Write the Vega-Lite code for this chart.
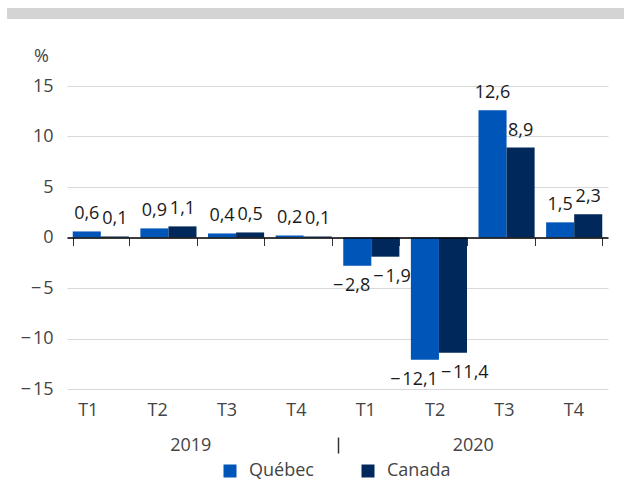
{
  "$schema": "https://vega.github.io/schema/vega-lite/v6.json",
  "background": "white",
  "padding": {"left": 7, "top": 8, "right": 0, "bottom": 8},
  "config": {
    "font": "Open Sans",
    "view": {"stroke": null},
    "locale": {"number": {"decimal": ",", "thousands": " ", "grouping": [3], "currency": ["", " $"], "minus": "−\u200a"}}
  },
  "width": 541,
  "height": 303,
  "data": {"values": [
    {"cat": "2019|T1", "year": "2019", "series": "Québec", "value": 0.6},
    {"cat": "2019|T1", "year": "2019", "series": "Canada", "value": 0.1},
    {"cat": "2019|T2", "year": "2019", "series": "Québec", "value": 0.9},
    {"cat": "2019|T2", "year": "2019", "series": "Canada", "value": 1.1},
    {"cat": "2019|T3", "year": "2019", "series": "Québec", "value": 0.4},
    {"cat": "2019|T3", "year": "2019", "series": "Canada", "value": 0.5},
    {"cat": "2019|T4", "year": "2019", "series": "Québec", "value": 0.2},
    {"cat": "2019|T4", "year": "2019", "series": "Canada", "value": 0.1},
    {"cat": "2020|T1", "year": "2020", "series": "Québec", "value": -2.8},
    {"cat": "2020|T1", "year": "2020", "series": "Canada", "value": -1.9},
    {"cat": "2020|T2", "year": "2020", "series": "Québec", "value": -12.1},
    {"cat": "2020|T2", "year": "2020", "series": "Canada", "value": -11.4},
    {"cat": "2020|T3", "year": "2020", "series": "Québec", "value": 12.6},
    {"cat": "2020|T3", "year": "2020", "series": "Canada", "value": 8.9},
    {"cat": "2020|T4", "year": "2020", "series": "Québec", "value": 1.5},
    {"cat": "2020|T4", "year": "2020", "series": "Canada", "value": 2.3}
  ]},
  "layer": [
    {
      "mark": {"type": "bar"},
      "encoding": {
        "x": {"field": "cat", "type": "nominal", "sort": null,
          "scale": {"domain": ["2019|T1","2019|T2","2019|T3","2019|T4","2020|T1","2020|T2","2020|T3","2020|T4"], "paddingInner": 0.17, "paddingOuter": 0.085},
          "axis": {"orient": "bottom", "offset": -151.5, "labels": false, "domain": true, "domainColor": "#000000", "domainWidth": 1.5, "ticks": true, "tickBand": "extent", "tickSize": 8, "tickColor": "#333333", "tickWidth": 1, "grid": false, "title": null, "zindex": 1}},
        "xOffset": {"field": "series", "type": "nominal", "scale": {"domain": ["Québec", "Canada"]}},
        "y": {"field": "value", "type": "quantitative",
          "scale": {"domain": [-15, 15], "nice": false},
          "axis": {"values": [-15, -10, -5, 0, 5, 10, 15], "format": "d", "grid": true, "gridColor": "#d9d9d9", "gridWidth": 1, "domain": false, "ticks": false, "labelPadding": 14, "labelFontSize": 18, "labelColor": "#444444", "title": "%", "titleAngle": 0, "titleX": -26, "titleY": -25, "titleAlign": "center", "titleBaseline": "alphabetic", "titleFontWeight": "normal", "titleFontSize": 18, "titleColor": "#444444", "titlePadding": 0, "minExtent": 60}},
        "color": {"field": "series", "type": "nominal",
          "scale": {"domain": ["Québec", "Canada"], "range": ["#0055b8", "#00285a"]},
          "legend": {"orient": "none", "legendX": 154, "legendY": 376, "direction": "horizontal", "title": null, "symbolType": "square", "symbolSize": 169, "symbolStrokeWidth": 0, "symbolOpacity": 1, "labelFontSize": 18, "labelColor": "#444444", "labelOffset": 10, "columnPadding": 45}}
      }
    },
    {
      "transform": [{"filter": "datum.value >= 0"}],
      "mark": {"type": "text", "baseline": "alphabetic", "dy": -12, "fontSize": 18, "color": "#1a1a1a"},
      "encoding": {
        "x": {"field": "cat", "type": "nominal", "sort": null,
          "scale": {"domain": ["2019|T1","2019|T2","2019|T3","2019|T4","2020|T1","2020|T2","2020|T3","2020|T4"], "paddingInner": 0.17, "paddingOuter": 0.085}, "axis": null},
        "xOffset": {"field": "series", "type": "nominal", "scale": {"domain": ["Québec", "Canada"]}},
        "y": {"field": "value", "type": "quantitative"},
        "text": {"field": "value", "type": "quantitative", "format": ".1f"}
      }
    },
    {
      "transform": [{"filter": "datum.value < 0 && datum.series === 'Québec'"}],
      "mark": {"type": "text", "baseline": "top", "align": "right", "dx": 13, "dy": 11, "fontSize": 18, "color": "#1a1a1a"},
      "encoding": {
        "x": {"field": "cat", "type": "nominal", "sort": null,
          "scale": {"domain": ["2019|T1","2019|T2","2019|T3","2019|T4","2020|T1","2020|T2","2020|T3","2020|T4"], "paddingInner": 0.17, "paddingOuter": 0.085}, "axis": null},
        "xOffset": {"field": "series", "type": "nominal", "scale": {"domain": ["Québec", "Canada"]}},
        "y": {"field": "value", "type": "quantitative"},
        "text": {"field": "value", "type": "quantitative", "format": ".1f"}
      }
    },
    {
      "transform": [{"filter": "datum.value < 0 && datum.series === 'Canada'"}],
      "mark": {"type": "text", "baseline": "top", "align": "left", "dx": -12, "dy": 11, "fontSize": 18, "color": "#1a1a1a"},
      "encoding": {
        "x": {"field": "cat", "type": "nominal", "sort": null,
          "scale": {"domain": ["2019|T1","2019|T2","2019|T3","2019|T4","2020|T1","2020|T2","2020|T3","2020|T4"], "paddingInner": 0.17, "paddingOuter": 0.085}, "axis": null},
        "xOffset": {"field": "series", "type": "nominal", "scale": {"domain": ["Québec", "Canada"]}},
        "y": {"field": "value", "type": "quantitative"},
        "text": {"field": "value", "type": "quantitative", "format": ".1f"}
      }
    },
    {
      "mark": {"type": "point", "opacity": 0},
      "encoding": {
        "x": {"field": "cat", "type": "nominal", "sort": null,
          "scale": {"type": "point", "domain": ["2019|T1","2019|T2","2019|T3","2019|T4","2020|T1","2020|T2","2020|T3","2020|T4"], "padding": 0.4, "align": 0.375},
          "axis": {"orient": "bottom", "domain": false, "ticks": false, "grid": false, "title": null, "labelAngle": 0, "labelPadding": 12, "labelFontSize": 18, "labelColor": "#444444", "labelExpr": "split(datum.label, '|')[1]"}}
      }
    },
    {
      "mark": {"type": "point", "opacity": 0},
      "encoding": {
        "x": {"field": "year", "type": "nominal",
          "scale": {"domain": ["2019", "2020"], "paddingInner": 0, "paddingOuter": 0},
          "axis": {"orient": "bottom", "offset": 48, "domain": false, "ticks": true, "tickBand": "extent", "tickSize": 16, "tickWidth": 1.5, "tickColor": "#333333",
            "tickOpacity": {"condition": {"test": "datum.value === '2019'", "value": 1}, "value": 0},
            "labelOffset": {"condition": {"test": "datum.value === '2019'", "value": -12}, "value": 0},
            "grid": false, "title": null, "labelAngle": 0, "labelPadding": -17, "labelFontSize": 18, "labelColor": "#444444"}}
      }
    },
    {
      "mark": {"type": "point", "opacity": 0},
      "encoding": {
        "color": {"field": "value", "type": "quantitative",
          "scale": {"range": ["#d4d4d4", "#d4d4d4"]},
          "legend": {"orient": "none", "legendX": -60, "legendY": -78, "direction": "horizontal", "title": null, "labelExpr": "''", "labelOpacity": 0, "labelFontSize": 1, "labelOffset": 0, "gradientLength": 617, "gradientThickness": 11, "gradientStrokeWidth": 0, "gradientOpacity": 1, "padding": 0}}
      }
    }
  ],
  "resolve": {"scale": {"x": "independent", "xOffset": "independent", "color": "independent"}, "axis": {"x": "independent"}, "legend": {"color": "independent"}}
}
